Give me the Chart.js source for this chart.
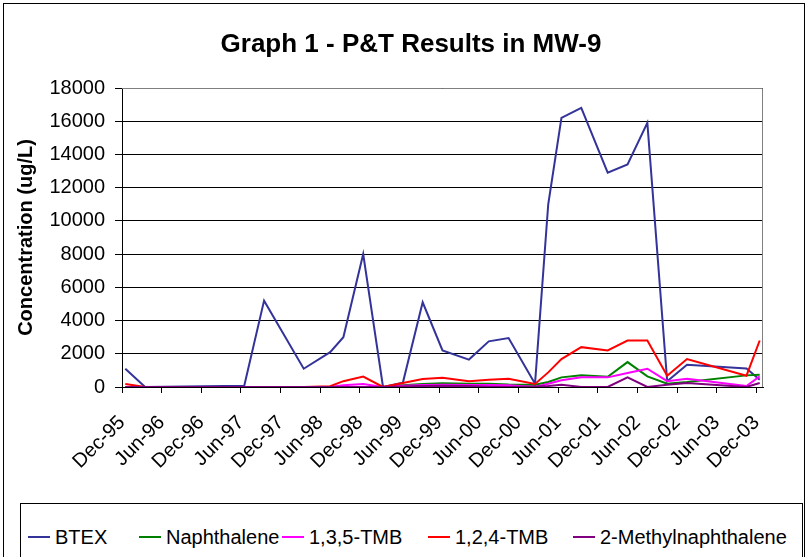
<!DOCTYPE html>
<html>
<head>
<meta charset="utf-8">
<script src="https://cdn.jsdelivr.net/npm/chart.js@4/dist/chart.umd.min.js"></script>
<style>
body{margin:0;background:#fff;}
#wrap{position:relative;width:806px;height:557px;overflow:hidden;font-family:"Liberation Sans",Arial,sans-serif;}
#frame{position:absolute;left:3px;top:3px;width:800px;height:600px;border:1px solid #000;}
#title{position:absolute;left:0;top:28px;width:822px;text-align:center;font-weight:bold;font-size:26px;}
#legend{position:absolute;left:20px;top:503px;width:781px;height:70px;border:1px solid #000;background:#fff;}
#legend .item{position:absolute;top:22px;font-size:20px;white-space:nowrap;}
#legend .swatch{display:inline-block;width:22px;height:2px;vertical-align:middle;margin-right:5px;position:relative;top:-2px;}
canvas{position:absolute;left:0;top:0;}
</style>
</head>
<body>
<div id="wrap">
  <div id="frame"></div>
  <canvas id="grafik" width="806" height="557"></canvas>
  <div id="title">Graph 1 - P&amp;T Results in MW-9</div>
  <div id="legend"></div>
</div>
<script>
// months after Dec-95 for each sampling round
const sampleMonths = [0,3,18,21,27,31,33,36,39,42,45,48,52,55,58,62,64,66,69,73,76,79,82,85,94,96];

const tickLabels = ["Dec-95","Jun-96","Dec-96","Jun-97","Dec-97","Jun-98","Dec-98","Jun-99",
  "Dec-99","Jun-00","Dec-00","Jun-01","Dec-01","Jun-02","Dec-02","Jun-03","Dec-03"];

const btex =        [1100,0,80,5200,1100,2100,3000,8000,0,250,5100,2200,1650,2750,2950,200,11000,16200,16800,12900,13400,15900,340,1340,1120,440];
const naphthalene = [0,0,0,0,0,0,0,0,0,100,180,220,200,200,150,140,300,580,700,620,1500,640,200,300,700,740];
const tmb135 =      [0,0,0,0,0,0,100,180,0,80,120,140,120,120,100,0,200,400,580,580,840,1100,350,500,60,640];
const tmb124 =      [180,0,0,0,0,50,350,630,0,240,480,560,340,440,500,180,880,1680,2400,2200,2800,2800,680,1680,680,2800];
const methylNaph =  [0,0,0,0,0,0,0,0,0,30,60,80,60,20,0,30,60,140,0,0,580,0,140,240,0,240];

const seriesNames = ["BTEX","Naphthalene","1,3,5-TMB","1,2,4-TMB","2-Methylnaphthalene"];
const seriesColors = ["#333399","#008000","#FF00FF","#FF0000","#800080"];
const seriesData = [btex,naphthalene,tmb135,tmb124,methylNaph];

function points(vals){
    // Excel date axis puts each month's point in the middle of the month
    return vals.map((v,i)=>({x:sampleMonths[i]+0.5,y:v}));
}

const plotBorder = {
    id:"plotBorder",
    beforeDatasetsDraw(chart){
        const a = chart.chartArea, c = chart.ctx;
        c.save();
        c.strokeStyle = "#808080";
        c.lineWidth = 1;
        c.beginPath();
        c.moveTo(a.left, a.top+0.5);
        c.lineTo(a.right-0.5, a.top+0.5);
        c.lineTo(a.right-0.5, a.bottom);
        c.stroke();
        c.restore();
    }
};

const legendX = [28,139,282,428,573];
const legend = document.getElementById("legend");
seriesNames.forEach((n,i)=>{
    const el = document.createElement("span");
    el.className = "item";
    el.style.left = (legendX[i]-21)+"px";
    el.innerHTML = '<span class="swatch" style="background:'+seriesColors[i]+'"></span>'+n;
    legend.appendChild(el);
});

new Chart(document.getElementById("grafik"),{
    type:"line",
    data:{
        datasets: seriesNames.map((n,i)=>({
            label:n,
            data:points(seriesData[i]),
            borderColor:seriesColors[i],
            backgroundColor:seriesColors[i],
            borderWidth:2,
            pointRadius:0,
            tension:0,
            fill:false,
            order:5-i
        }))
    },
    options:{
        responsive:false,
        animation:false,
        devicePixelRatio:1,
        layout:{padding:{top:88,right:43,left:0,bottom:0}},
        plugins:{
            legend:{display:false},
            tooltip:{enabled:false}
        },
        scales:{
            x:{
                type:"linear",
                min:0,
                max:97,
                afterFit(s){ s.height = 170; },
                ticks:{
                    stepSize:6,
                    includeBounds:false,
                    autoSkip:false,
                    minRotation:45,
                    maxRotation:45,
                    color:"#000",
                    padding:18,
                    font:{family:"Liberation Sans",size:20},
                    callback:(v)=> tickLabels[Math.round(v/6)]
                },
                grid:{drawOnChartArea:false,color:"#000",tickLength:6},
                border:{color:"#000"}
            },
            y:{
                min:0,
                max:18000,
                afterFit(s){ s.width = 122; },
                ticks:{
                    stepSize:2000,
                    color:"#000",
                    padding:10,
                    font:{family:"Liberation Sans",size:20},
                    callback:(v)=> String(v)
                },
                grid:{color:"#000",tickLength:7},
                border:{color:"#000"},
                title:{
                    display:true,
                    text:"Concentration (ug/L)",
                    color:"#000",
                    padding:{top:14,bottom:0},
                    font:{family:"Liberation Sans",size:20,weight:"bold"}
                }
            }
        }
    },
    plugins:[plotBorder]
});
</script>
</body>
</html>
